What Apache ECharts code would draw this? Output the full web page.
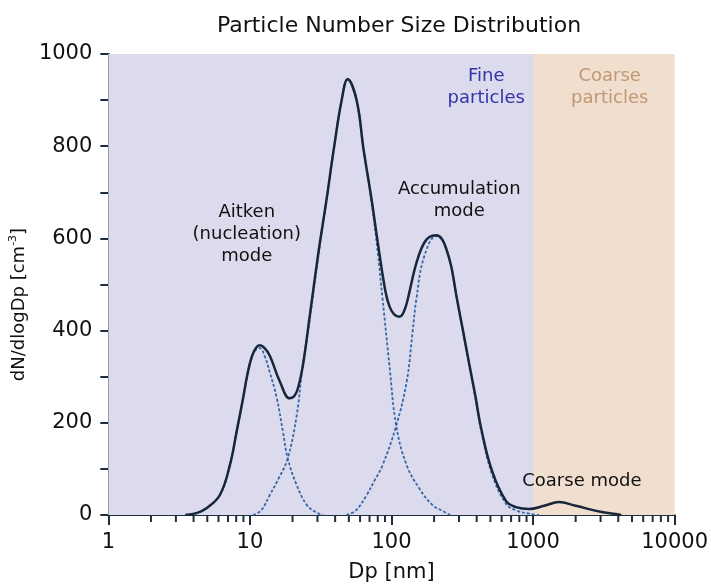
<!DOCTYPE html>
<html>
<head>
<meta charset="utf-8">
<script src="https://cdn.jsdelivr.net/npm/echarts@6/dist/echarts.min.js"></script>
<style>
html,body{margin:0;padding:0;background:#fff;}
#chart{width:711px;height:588px;}
</style>
</head>
<body>
<div id="chart"></div>
<script>
// ---- Data ----
const totalCurve = [[3.5,0],[4.2,4],[4.96,15],[6.15,44],[7.23,109],[8.06,181],[8.97,255],[9.6,305],[10.3,343],[11,362],[11.75,368],[12.7,362],[13.8,346],[16.3,289],[19.1,253],[20.6,258],[21.9,276],[23.7,325],[26.5,433],[30.5,570],[34.8,685],[39.1,793],[44.5,900],[49,945],[56.7,900],[63.5,793],[72.3,685],[81,580],[90.7,485],[97,452],[104,436],[114,430],[120,436],[127,455],[134,484],[145,530],[157,566],[170,590],[185,603],[207,607],[226,600],[244,577],[264,540],[290,469],[321,398],[354,328],[391,259],[430,188],[514,95],[645,30],[759,17],[937,13],[1200,20],[1524,28],[2000,20],[3000,7],[3843,2],[4200,0]];
const aitkenMode = [[3.5,0],[4.2,4],[4.96,15],[6.15,44],[7.23,109],[8.06,181],[8.97,255],[9.6,305],[10.3,341],[11,358],[11.75,362],[12.7,345],[13.8,310],[15.5,253],[17.1,181],[18.5,123],[21.4,65],[25.2,22],[29.6,5],[33,0]];
const nucleationMode = [[10.5,0],[12,10],[13.8,43],[16,80],[18.5,123],[21.4,216],[23.6,324],[26.5,425],[30.5,565],[34.8,683],[39.1,792],[44.5,900],[49,945],[56.7,900],[63.5,793],[72.3,680],[80,570],[86.5,469],[96.8,324],[108,194],[128,108],[157,58],[194,22],[229,9],[260,0]];
const accumulationMode = [[48,0],[56,10],[66.7,43],[76,75],[86.5,108],[108,194],[128,289],[141,397],[150,469],[170,560],[207,605],[226,598],[244,576],[264,539],[290,468],[321,396],[354,325],[391,255],[430,183],[514,88],[645,24],[759,10],[937,3],[1100,0]];
const minorTickValues = [2,3,4,5,6,7,8,9,20,30,40,50,60,70,80,90,200,300,400,500,600,700,800,900,2000,3000,4000,5000,6000,7000,8000,9000];
const fineRange = [1, 1000];
const coarseRange = [1000, 10000];
const annotations = [
  {x: 9.5, y: 609, text: 'Aitken\n(nucleation)\nmode', kind: 'dark'},
  {x: 301, y: 682, text: 'Accumulation\nmode', kind: 'dark'},
  {x: 467, y: 928, text: 'Fine\nparticles', kind: 'fine'},
  {x: 3480, y: 928, text: 'Coarse\nparticles', kind: 'coarse'},
  {x: 2213, y: 73, text: 'Coarse mode', kind: 'dark'}
];

const FONT = 'DejaVu Sans, Verdana, sans-serif';
const textColors = {dark: '#111111', fine: '#3333a8', coarse: '#c09874'};
const AXIS_COLOR = '#1e2e3c';
const DASH_COLOR = '#3566a8';

const chart = echarts.init(document.getElementById('chart'), null, {renderer: 'canvas'});
const option = {
  animation: false,
  backgroundColor: '#ffffff',
  title: {
    text: 'Particle Number Size Distribution',
    left: 394, top: 10, textAlign: 'center',
    textStyle: {fontFamily: FONT, fontSize: 22, fontWeight: 'normal', color: '#111111'}
  },
  grid: {left: 108, right: 35, top: 54, bottom: 71},
  xAxis: {
    type: 'log', logBase: 10, min: 1, max: 10000,
    name: 'Dp [nm]', nameLocation: 'middle', nameGap: 47,
    nameTextStyle: {fontFamily: FONT, fontSize: 21, color: '#111111'},
    axisLine: {show: true, onZero: false, lineStyle: {color: AXIS_COLOR, width: 2}},
    axisTick: {show: true, inside: false, length: 10, lineStyle: {color: AXIS_COLOR, width: 2}},
    axisLabel: {fontFamily: FONT, fontSize: 21, color: '#111111', margin: 17, showMaxLabel: true, showMinLabel: true,
      formatter: v => String(v)},
    splitLine: {show: false}
  },
  yAxis: {
    type: 'value', min: 0, max: 1000, interval: 200,
    name: '{a|dN/dlogDp [cm}{s|-3}{a|]}', nameLocation: 'middle', nameGap: 72, nameRotate: 90,
    nameTextStyle: {
      fontFamily: FONT, color: '#111111', padding: [0, 40, 0, 0],
      rich: {
        a: {fontFamily: FONT, fontSize: 18, color: '#111111', lineHeight: 22},
        s: {fontFamily: FONT, fontSize: 11, color: '#111111', verticalAlign: 'top', lineHeight: 22}
      }
    },
    axisLine: {show: true, lineStyle: {color: AXIS_COLOR, width: 2}},
    axisTick: {show: true, length: 8, lineStyle: {color: AXIS_COLOR, width: 2}},
    minorTick: {show: true, splitNumber: 2, length: 8, lineStyle: {color: AXIS_COLOR, width: 2}},
    axisLabel: {fontFamily: FONT, fontSize: 21, color: '#111111', margin: 16, formatter: v => String(v)},
    splitLine: {show: false}
  },
  series: [
    {
      type: 'line', name: 'regions', data: [], silent: true,
      markArea: {
        silent: true,
        data: [
          [{xAxis: fineRange[0], yAxis: 0, itemStyle: {color: '#dcdbed'}}, {xAxis: fineRange[1], yAxis: 1000}],
          [{xAxis: coarseRange[0], yAxis: 0, itemStyle: {color: '#f0dece'}}, {xAxis: coarseRange[1], yAxis: 1000}]
        ]
      }
    },
    {
      type: 'line', name: 'Aitken', data: aitkenMode, smooth: 0.4, showSymbol: false, silent: true,
      lineStyle: {color: DASH_COLOR, width: 1.8, type: [3, 2]}
    },
    {
      type: 'line', name: 'Nucleation', data: nucleationMode, smooth: 0.4, showSymbol: false, silent: true,
      lineStyle: {color: DASH_COLOR, width: 1.8, type: [3, 2]}
    },
    {
      type: 'line', name: 'Accumulation', data: accumulationMode, smooth: 0.4, showSymbol: false, silent: true,
      lineStyle: {color: DASH_COLOR, width: 1.8, type: [3, 2]}
    },
    {
      type: 'line', name: 'Total', data: totalCurve, smooth: 0.4, showSymbol: false, silent: true,
      lineStyle: {color: '#17263a', width: 2.5}
    },
    {
      type: 'scatter', name: 'minorTicks', silent: true, clip: false,
      data: minorTickValues.map(v => [v, 0]),
      symbol: 'rect', symbolSize: [2, 6], symbolOffset: [0, 4],
      itemStyle: {color: AXIS_COLOR, opacity: 1}
    },
    {
      type: 'scatter', name: 'labels', silent: true, clip: false,
      symbolSize: 0,
      itemStyle: {color: 'transparent', opacity: 1},
      data: annotations.map(a => ({
        value: [a.x, a.y],
        label: {
          show: true, position: 'inside', formatter: a.text, opacity: 1,
          fontFamily: FONT, fontSize: 18, lineHeight: 22, align: 'center',
          color: textColors[a.kind], textBorderWidth: 0, textBorderColor: 'transparent'
        }
      }))
    }
  ]
};
chart.setOption(option);
</script>
</body>
</html>
